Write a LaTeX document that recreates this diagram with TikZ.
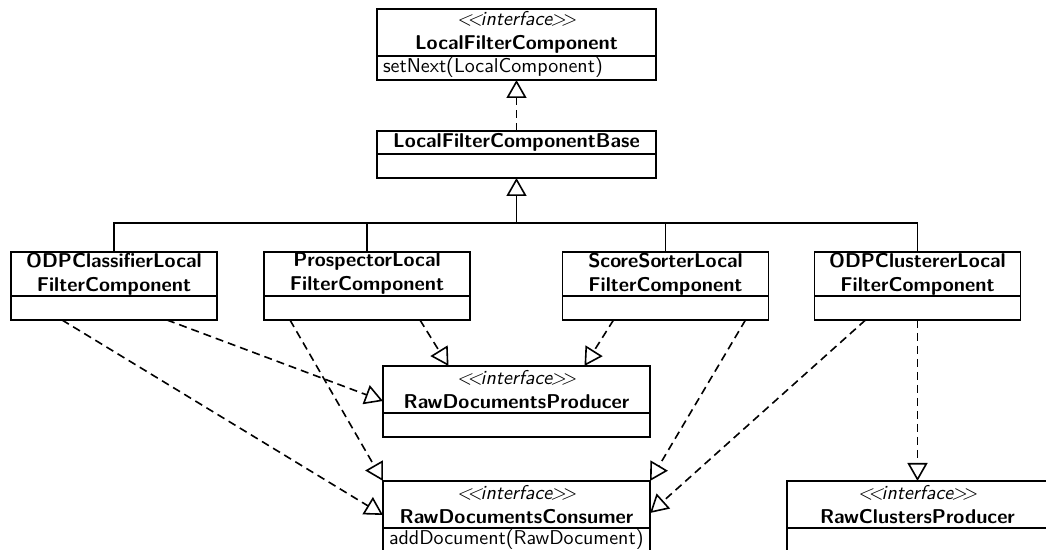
\documentclass[tikz,border=0pt]{standalone}
\usetikzlibrary{arrows.meta,positioning}
\renewcommand{\familydefault}{\sfdefault}
\newcommand{\ifacetag}{{\mdseries\itshape <\kern-2.5pt<\kern-1pt interface\kern-1pt>\kern-2.5pt>}}

\begin{document}
\begin{tikzpicture}[x=0.5pt,y=-0.5pt,line width=0.8pt,
  font=\fontsize{10}{10.5}\selectfont,
  classname/.style={draw,inner sep=0pt,outer sep=0pt,align=center,font=\bfseries,anchor=north},
  classbody/.style={draw,inner sep=0pt,outer sep=0pt,minimum height=12pt},
  classops/.style={draw,inner xsep=3pt,inner ysep=0pt,outer sep=0pt,minimum height=12pt,align=left},
  inherit/.style={-{Triangle[open,length=9pt,width=10pt]}},
  realize/.style={inherit,dash pattern=on 4pt off 2.5pt}]
\useasboundingbox (0,0) rectangle (1046,550);
\clip (0,0) rectangle (1046,550);

% top of the hierarchy
\node[classname,minimum width=139.5pt,minimum height=23.5pt] (lfc) at (516.5,9) {\ifacetag\\LocalFilterComponent};
\node[classops,text width=133.5pt,below=0pt of lfc] (lfc-ops) {setNext(LocalComponent)};
\node[classname,minimum width=139.5pt,minimum height=11.5pt] (lfcb) at (516.5,131) {LocalFilterComponentBase};
\node[classbody,minimum width=139.5pt,below=0pt of lfcb] (lfcb-ops) {};

% the four filter components
\node[classname,minimum width=103pt,minimum height=22pt] (odpcl) at (114,252) {ODPClassifierLocal\\FilterComponent};
\node[classbody,minimum width=103pt,below=0pt of odpcl] (odpcl-ops) {};
\node[classname,minimum width=103pt,minimum height=22pt] (prosp) at (367,252) {ProspectorLocal\\FilterComponent};
\node[classbody,minimum width=103pt,below=0pt of prosp] (prosp-ops) {};
\node[classname,minimum width=103pt,minimum height=22pt] (score) at (665.5,252) {ScoreSorterLocal\\FilterComponent};
\node[classbody,minimum width=103pt,below=0pt of score] (score-ops) {};
\node[classname,minimum width=103pt,minimum height=22pt] (odpclu) at (917.5,252) {ODPClustererLocal\\FilterComponent};
\node[classbody,minimum width=103pt,below=0pt of odpclu] (odpclu-ops) {};

% producer / consumer interfaces
\node[classname,minimum width=133.5pt,minimum height=23.5pt] (prod) at (516.5,366) {\ifacetag\\RawDocumentsProducer};
\node[classbody,minimum width=133.5pt,below=0pt of prod] (prod-ops) {};
\node[classname,minimum width=133.5pt,minimum height=23.5pt] (cons) at (516.5,481) {\ifacetag\\RawDocumentsConsumer};
\node[classops,text width=127.5pt,below=0pt of cons] (cons-ops) {addDocument(RawDocument)};
\node[classname,minimum width=130.5pt,minimum height=23.5pt] (clus) at (917.5,481) {\ifacetag\\RawClustersProducer};
\node[classbody,minimum width=130.5pt,below=0pt of clus] (clus-ops) {};

% generalization
\coordinate (fork) at (516.5,223);
\draw[inherit] (fork) -- (lfcb-ops.south);
\draw (odpcl.north) |- (fork) -| (odpclu.north);
\draw (prosp.north) |- (fork) -| (score.north);

% realization
\draw[realize] (lfcb.north) -- (lfc-ops.south);
\draw[realize] ([xshift=-26pt]odpcl-ops.south) -- ([yshift=-5.25pt]cons.west);
\draw[realize] ([xshift=26.5pt]odpcl-ops.south) -- ([yshift=-5.75pt]prod.west);
\draw[realize] ([xshift=-38.5pt]prosp-ops.south) -- (cons.north west);
\draw[realize] ([xshift=26.5pt]prosp-ops.south) -- ([xshift=-34pt]prod.north);
\draw[realize] ([xshift=-26pt]score-ops.south) -- ([xshift=34pt]prod.north);
\draw[realize] ([xshift=40pt]score-ops.south) -- (cons.north east);
\draw[realize] ([xshift=-26pt]odpclu-ops.south) -- ([yshift=-4.25pt]cons.east);
\draw[realize] (odpclu-ops.south) -- (clus.north);
\end{tikzpicture}
\end{document}
